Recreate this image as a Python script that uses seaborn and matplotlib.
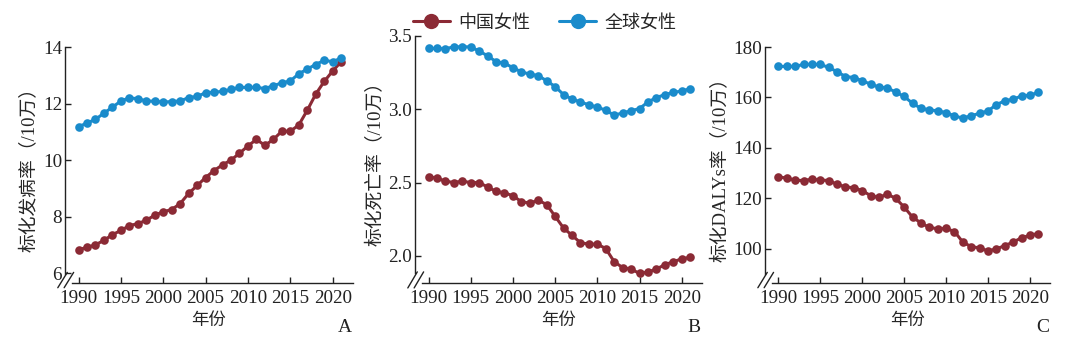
import numpy as np
import pandas as pd
import matplotlib
matplotlib.use("Agg")
import matplotlib.pyplot as plt
from matplotlib.lines import Line2D
import seaborn as sns

years = list(range(1990, 2022))

inc_china = [6.83, 6.91, 7.00, 7.16, 7.36, 7.51, 7.68, 7.75, 7.87, 8.05, 8.17, 8.25, 8.46, 8.82, 9.10, 9.38,
             9.63, 9.83, 10.00, 10.24, 10.50, 10.73, 10.52, 10.73, 11.02, 11.02, 11.24, 11.76, 12.33, 12.78, 13.15, 13.48]
inc_global = [11.18, 11.31, 11.44, 11.66, 11.87, 12.09, 12.20, 12.17, 12.09, 12.08, 12.05, 12.07, 12.09, 12.21, 12.25, 12.38,
              12.40, 12.43, 12.50, 12.57, 12.57, 12.57, 12.53, 12.63, 12.73, 12.80, 13.05, 13.22, 13.38, 13.53, 13.48, 13.61]

mort_china = [2.54, 2.53, 2.51, 2.50, 2.51, 2.50, 2.50, 2.47, 2.44, 2.43, 2.41, 2.37, 2.36, 2.38, 2.35, 2.27,
              2.19, 2.14, 2.09, 2.08, 2.08, 2.05, 1.96, 1.92, 1.91, 1.88, 1.89, 1.91, 1.94, 1.96, 1.98, 1.99]
mort_global = [3.415, 3.415, 3.413, 3.426, 3.426, 3.426, 3.397, 3.365, 3.325, 3.314, 3.284, 3.255, 3.24, 3.23, 3.194, 3.155,
               3.10, 3.07, 3.05, 3.03, 3.015, 2.993, 2.96, 2.975, 2.99, 3.005, 3.05, 3.08, 3.10, 3.115, 3.125, 3.14]

daly_china = [128.5, 128.1, 127.2, 127.1, 127.6, 127.3, 127.1, 125.6, 124.6, 124.2, 123.1, 121.1, 120.4, 121.7, 120.0, 116.6,
              112.6, 110.3, 108.5, 108.0, 108.1, 106.9, 102.7, 100.9, 100.4, 99.2, 100.0, 101.3, 102.7, 104.4, 105.4, 106.1]
daly_global = [172.3, 172.3, 172.3, 173.1, 173.1, 173.1, 171.9, 170.2, 168.3, 167.9, 166.6, 165.3, 164.1, 163.8, 162.1, 160.4,
               157.7, 155.7, 155.1, 154.7, 154.0, 152.7, 151.8, 152.8, 153.7, 154.7, 157.1, 158.7, 159.3, 160.6, 160.9, 162.0]

groups = ["中国女性", "全球女性"]
ylabels = ["标化发病率（/10万）", "标化死亡率（/10万）", "标化DALYs率（/10万）"]
panel_letters = ["A", "B", "C"]
xtick_vals = [1990, 1995, 2000, 2005, 2010, 2015, 2020]
yticks_list = [[6, 8, 10, 12, 14], [2.0, 2.5, 3.0, 3.5], [100, 120, 140, 160, 180]]
ytick_fmt = ["{:.0f}", "{:.1f}", "{:.0f}"]

RED = "#8b2a35"
BLUE = "#1a8bcb"
palette = {groups[0]: RED, groups[1]: BLUE}

sns.set_theme(style="ticks")
plt.rcParams["font.family"] = ["Liberation Serif", "Noto Sans CJK SC", "DejaVu Sans"]
plt.rcParams["axes.unicode_minus"] = False

fig = plt.figure(figsize=(10.8, 3.45), dpi=100)
W, H = 1080, 345

def ax_rect(left, right, top, bottom):
    return [left / W, 1 - bottom / H, (right - left) / W, (bottom - top) / H]

rects = [ax_rect(65, 353, 47, 283), ax_rect(415, 702, 36, 283), ax_rect(765, 1050, 47, 283)]
ylims = [(5.65, 14.0), (1.815, 3.5), (86.5, 180)]
data_sets = [(inc_china, inc_global), (mort_china, mort_global), (daly_china, daly_global)]
letter_x = [345, 694, 1043]

for i in range(3):
    ax = fig.add_axes(rects[i])
    c, g = data_sets[i]
    df = pd.DataFrame({
        "year": years + years,
        "value": c + g,
        "group": [groups[0]] * len(years) + [groups[1]] * len(years),
    })
    sns.lineplot(data=df, x="year", y="value", hue="group", palette=palette, ax=ax,
                 marker="o", markersize=6.2, markeredgewidth=0, linewidth=2.2, legend=False)
    ax.set_xlim(1988.4, 2022.4)
    ax.set_ylim(*ylims[i])
    ax.set_xticks(xtick_vals)
    ax.set_xticklabels([str(v) for v in xtick_vals], fontsize=13.8)
    ax.set_yticks(yticks_list[i])
    ax.set_yticklabels([ytick_fmt[i].format(v) for v in yticks_list[i]], fontsize=13.8)
    ax.tick_params(axis="x", direction="in", length=4, width=1.0, colors="#222222", pad=5)
    ax.tick_params(axis="y", direction="in", length=4, width=1.0, colors="#222222", pad=2)
    ax.set_xlabel("年份", fontsize=12.5, labelpad=4)
    ax.set_ylabel(ylabels[i], fontsize=13.5, labelpad=3)
    for s in ["top", "right"]:
        ax.spines[s].set_visible(False)
    for s in ["left", "bottom"]:
        ax.spines[s].set_color("#222222")
        ax.spines[s].set_linewidth(1.0)
    ylo, yhi = ylims[i]
    ax.spines["left"].set_bounds(ylo + (yhi - ylo) * 0.04, yhi)
    ax.spines["bottom"].set_bounds(1988.4 + 34 * 0.025, 2022.4)
    # break marks
    for dx in (0.0, 0.022):
        ax.plot([-0.025 + dx, 0.008 + dx], [-0.02, 0.045], transform=ax.transAxes,
                color="#222222", lw=1.0, clip_on=False)
    ax.grid(False)
    fig.text(letter_x[i] / W, 1 - 327 / H, panel_letters[i], fontsize=14,
             ha="center", va="center", color="#222222")

handles = [Line2D([0], [0], color=RED, lw=2.2, marker="o", markersize=11, markeredgewidth=0),
           Line2D([0], [0], color=BLUE, lw=2.2, marker="o", markersize=11, markeredgewidth=0)]
fig.legend(handles, groups, loc="center", bbox_to_anchor=(545 / W, 1 - 23 / H), ncol=2,
           frameon=False, fontsize=13, handlelength=2.0, columnspacing=1.6, handletextpad=0.5)

fig.savefig("out.png", dpi=100, facecolor="white")
